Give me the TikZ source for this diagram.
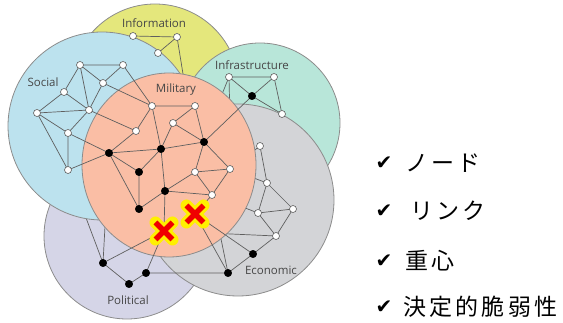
\documentclass[tikz,border=0pt]{standalone}
\usepackage{fontspec}
\usetikzlibrary{calc}
\setmainfont{Open Sans}
\newfontfamily\jpfont{Noto Sans CJK JP}
\newfontfamily\symfont{DejaVu Sans}
\definecolor{yellowc}{RGB}{228,231,124}
\definecolor{bluec}{RGB}{188,226,238}
\definecolor{tealc}{RGB}{184,230,217}
\definecolor{grayc}{RGB}{211,212,215}
\definecolor{lavc}{RGB}{213,213,231}
\definecolor{salmonc}{RGB}{250,190,165}
\definecolor{circline}{RGB}{140,140,140}
\definecolor{edgec}{RGB}{95,95,95}
\definecolor{labc}{RGB}{70,70,70}
\definecolor{xred}{RGB}{240,0,0}
\definecolor{xyel}{RGB}{255,240,0}
\tikzset{
  circ/.style={draw=circline,line width=0.8pt},
  edge/.style={draw=edgec,line width=0.7pt},
  wn/.style={circle,fill=white,draw=edgec,line width=0.6pt,minimum size=7pt,inner sep=0pt},
  bn/.style={circle,fill=black,draw=black,minimum size=7.5pt,inner sep=0pt},
  lab/.style={font=\fontsize{11.5}{13}\selectfont,text=labc,inner sep=0pt},
  chk/.style={font=\symfont\fontsize{20}{22}\selectfont,inner sep=0pt},
  jp/.style={font=\jpfont\fontsize{23}{26}\selectfont\addfontfeature{LetterSpace=14},anchor=west,inner sep=0pt},
  xglow/.style={draw=xyel,line width=12pt,line cap=round},
  xcore/.style={draw=xred,line width=5.5pt,line cap=butt}
}
\begin{document}
\begin{tikzpicture}[x=1pt,y=-1pt]
\useasboundingbox (0,0) rectangle (563,323);
% ---------- coordinates ----------
% information
\coordinate (i1) at (133,36); \coordinate (i2) at (177,37); \coordinate (i3) at (158,53);
\coordinate (ih) at (184,80);
% social
\coordinate (s1) at (80,65); \coordinate (s2) at (123,65); \coordinate (s3) at (103,83);
\coordinate (s4) at (64,92); \coordinate (s5) at (89,110); \coordinate (s6) at (37,113);
\coordinate (s7) at (68,133); \coordinate (s8) at (68,170);
% infrastructure
\coordinate (t1) at (229,77); \coordinate (t2) at (274,77); \coordinate (t3) at (252,96);
\coordinate (t4) at (282,114); \coordinate (th1) at (214,114); \coordinate (th2) at (230,120);
% military
\coordinate (m1) at (152,106); \coordinate (m2) at (195,106); \coordinate (m3) at (173,123);
\coordinate (m4) at (136,131); \coordinate (m5) at (204,142); \coordinate (m6) at (161,149);
\coordinate (m7) at (109,153); \coordinate (m8) at (139,172); \coordinate (m9) at (195,172);
\coordinate (m10) at (230,169); \coordinate (m11) at (165,191); \coordinate (m12) at (212,195);
\coordinate (m13) at (139,209);
% economic
\coordinate (e1) at (260,146); \coordinate (e2) at (267,183); \coordinate (e3) at (258,213);
\coordinate (e4) at (293,209); \coordinate (e5) at (276,236); \coordinate (e6) at (253,254);
\coordinate (e7) at (228,273);
% political
\coordinate (p1) at (103,263); \coordinate (p2) at (146,273); \coordinate (p3) at (129,284);
% critical
\coordinate (x1) at (164,231); \coordinate (x2) at (195,214);

% ---------- information ----------
\fill[yellowc] (155,88) circle [radius=84pt];
\draw[circ] (155,88) circle [radius=84pt];
\draw[edge] (i1) -- (i2) (i1) -- (i3) (i2) -- (i3) (i2) -- (ih) (i3) -- (ih);
% ---------- political ----------
\fill[lavc] (127,236) circle [radius=83pt];
\draw[circ] (127,236) circle [radius=83pt];
\draw[edge] (p1) -- (p3) (p3) -- (p2) (p1) -- (s8) (p1) -- (m7);
% ---------- social ----------
\fill[bluec] (102,126) circle [radius=94pt];
\draw[circ] (102,126) circle [radius=94pt];
\draw[edge] (s1) -- (s2) (s1) -- (s4) (s1) -- (s5) (s1) -- (s3) (s2) -- (s3) (s3) -- (s5)
  (s4) -- (s5) (s4) -- (s6) (s6) -- (s5) (s6) -- (s7) (s6) -- (s8)
  (s7) -- (s8) (s5) -- (s7);
% ---------- infrastructure ----------
\fill[tealc] (260,123) circle [radius=80pt];
\draw[circ] (260,123) circle [radius=80pt];
\draw[edge] (t1) -- (t2) (t1) -- (t3) (t2) -- (t3) (t2) -- (t4) (t3) -- (t4)
  (t1) -- (th1) (t1) -- (th2);
% ---------- economic ----------
\fill[grayc] (238,200) circle [radius=96pt];
\draw[circ] (238,200) circle [radius=96pt];
\draw[edge] (e1) -- (e2) (e2) -- (e3) (e2) -- (e4) (e3) -- (e4) (e3) -- (e5)
  (e4) -- (e5) (e5) -- (e6) (e6) -- (e7)
  (e1) -- (m10) (e2) -- (m10) (e3) -- (m12) (e5) -- (x1) (e7) -- (m12);
% ---------- military ----------
\fill[salmonc] (169,165) ellipse [x radius=87pt, y radius=92pt];
\draw[circ] (169,165) ellipse [x radius=87pt, y radius=92pt];
\draw[edge] (m1) -- (m2) (m1) -- (m4) (m1) -- (m6) (m2) -- (m3) (m2) -- (m5)
  (m3) -- (m6) (m3) -- (m5) (m4) -- (m7) (m7) -- (m6) (m6) -- (m5)
  (m7) -- (m8) (m7) -- (m13) (m6) -- (m8) (m8) -- (m13) (m6) -- (m11)
  (m11) -- (m13) (m11) -- (m9) (m11) -- (m12) (m9) -- (m10) (m9) -- (m12)
  (m10) -- (m12) (m5) -- (m10) (m5) -- (m9);
% cross-layer links
\draw[edge] (s7) -- (m7) (s5) -- (m4) (s2) -- (m1) (s3) -- (m1) (s8) -- (m7) (t3) -- (m5)
  (m11) -- (x1) (x1) -- (p1) (x1) -- (p2) (x2) -- (e7) (x2) -- (e6) (x2) -- (m12)
  (p2) -- (e7);
% ---------- critical vulnerabilities ----------
\foreach \c in {x1,x2}{
  \draw[xglow] ($(\c)+(-8.5,-8.5)$) -- ($(\c)+(8.5,8.5)$) ($(\c)+(-8.5,8.5)$) -- ($(\c)+(8.5,-8.5)$);
}
\foreach \c in {x1,x2}{
  \draw[xcore] ($(\c)+(-8.5,-8.5)$) -- ($(\c)+(8.5,8.5)$) ($(\c)+(-8.5,8.5)$) -- ($(\c)+(8.5,-8.5)$);
}
% ---------- nodes ----------
\foreach \n in {i1,i2,i3,s1,s2,s3,s4,s5,s6,s7,s8,t1,t2,t4,m1,m2,m3,m4,m9,m10,m12,e1,e2,e3,e4,e5}{
  \node[wn] (n\n) at (\n) {};
}
\foreach \n in {t3,m5,m6,m7,m8,m11,m13,e6,e7,p1,p2,p3}{
  \node[bn] (n\n) at (\n) {};
}
% ---------- labels ----------
\node[lab] (lInfo) at (154,23) {Information};
\node[lab] (lInfra) at (252,65) {Infrastructure};
\node[lab] (lSoc) at (43,82) {Social};
\node[lab] (lMil) at (176,90) {Military};
\node[lab] (lEco) at (271,270) {Economic};
\node[lab] (lPol) at (128,300) {Political};
% ---------- legend ----------
\node[chk] (c1) at (384,163) {✔};
\node[chk] (c2) at (384,211) {✔};
\node[chk] (c3) at (384,261) {✔};
\node[chk] (c4) at (384,307) {✔};
\node[jp] (j1) at (405,163) {ノード};
\node[jp] (j2) at (410,211) {リンク};
\node[jp] (j3) at (405,261) {重心};
\node[jp] (j4) at (403,307) {決定的脆弱性};
\end{tikzpicture}
\end{document}
